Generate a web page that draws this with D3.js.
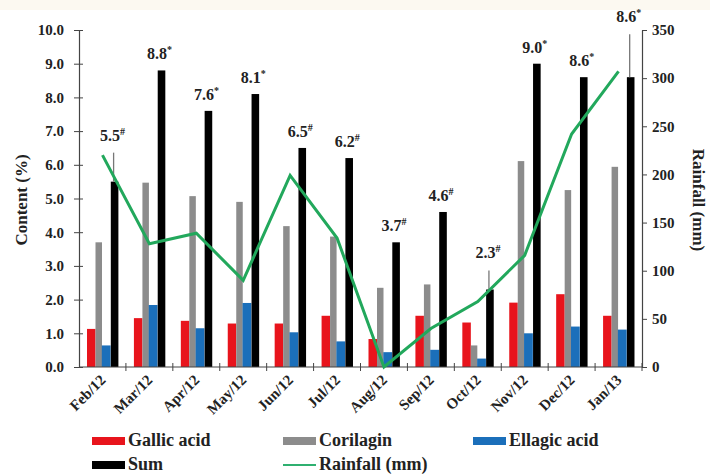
<!DOCTYPE html>
<html>
<head>
<meta charset="utf-8">
<script src="https://cdn.jsdelivr.net/npm/d3@7"></script>
<style>
  html, body { margin: 0; padding: 0; background: #fff; }
</style>
</head>
<body>
<svg id="chart" width="710" height="475"></svg>
<script>
// Monthly content of the three compounds (%), their sum, and rainfall (mm)
const months = ["Feb/12","Mar/12","Apr/12","May/12","Jun/12","Jul/12","Aug/12","Sep/12","Oct/12","Nov/12","Dec/12","Jan/13"];
const gallicAcid  = [1.13, 1.45, 1.37, 1.29, 1.29, 1.52, 0.83, 1.52, 1.32, 1.91, 2.16, 1.52];
const corilagin   = [3.70, 5.47, 5.07, 4.90, 4.18, 3.87, 2.35, 2.45, 0.64, 6.11, 5.25, 5.94];
const ellagicAcid = [0.64, 1.84, 1.15, 1.90, 1.03, 0.76, 0.44, 0.51, 0.25, 1.00, 1.20, 1.11];
const sumValues   = [5.5, 8.8, 7.6, 8.1, 6.5, 6.2, 3.7, 4.6, 2.3, 9.0, 8.6, 8.6];
const sumMarks    = ["#", "*", "*", "*", "#", "#", "#", "#", "#", "*", "*", "*"];
const rainfall    = [220, 128, 139, 90, 199, 134, 0, 40, 68, 116, 242, 307];
const leftTicks   = [0, 1, 2, 3, 4, 5, 6, 7, 8, 9, 10];
const rightTicks  = [0, 50, 100, 150, 200, 250, 300, 350];

const FONT = "Liberation Serif";
const INK = "#222";
const svg = d3.select("#chart");

// faint strip along the top edge
svg.append("rect").attr("x", 0).attr("y", 0).attr("width", 710).attr("height", 10).attr("fill", "#fcf9f1");

const plot = { left: 79, right: 642, top: 30, bottom: 367 };

const x = d3.scaleBand().domain(months).range([plot.left, plot.right]).paddingInner(0).paddingOuter(0);
const yL = d3.scaleLinear().domain([0, 10]).range([plot.bottom, plot.top]);
const yR = d3.scaleLinear().domain([0, 350]).range([plot.bottom, plot.top]);

// bar series: offset and width inside each month band
const series = [
  { name: "Gallic acid",  values: gallicAcid,  color: "#e8141c", off: 8.0,  w: 8.5 },
  { name: "Corilagin",    values: corilagin,   color: "#8c8c8c", off: 16.5, w: 6.5 },
  { name: "Ellagic acid", values: ellagicAcid, color: "#1b6fba", off: 22.8, w: 8.8 },
  { name: "Sum",          values: sumValues,   color: "#000000", off: 31.8, w: 7.6 }
];

series.forEach(s => {
  svg.append("g").selectAll("rect")
    .data(months)
    .join("rect")
    .attr("x", (m) => x(m) + s.off)
    .attr("width", s.w)
    .attr("y", (m, i) => yL(s.values[i]))
    .attr("height", (m, i) => plot.bottom - yL(s.values[i]))
    .attr("fill", s.color);
});

function styleText(sel, size) {
  return sel.attr("font-family", FONT).attr("font-weight", "bold").attr("font-size", size).attr("fill", INK);
}

// left axis
const gL = svg.append("g").attr("transform", `translate(${plot.left},0)`)
  .call(d3.axisLeft(yL).tickValues(leftTicks).tickFormat(d3.format(".1f")).tickSize(5).tickSizeOuter(0));
gL.attr("font-family", null).attr("font-size", null);
gL.select(".domain").attr("stroke", "#444").attr("stroke-width", 1.2);
gL.selectAll(".tick line").attr("x1", 4).attr("x2", -5).attr("stroke", "#444");
styleText(gL.selectAll(".tick text").attr("x", -15), 15);

// right axis
const gR = svg.append("g").attr("transform", `translate(${plot.right},0)`)
  .call(d3.axisRight(yR).tickValues(rightTicks).tickSize(5).tickSizeOuter(0));
gR.attr("font-family", null).attr("font-size", null);
gR.select(".domain").attr("stroke", "#444").attr("stroke-width", 1.2);
gR.selectAll(".tick line").attr("stroke", "#444");
styleText(gR.selectAll(".tick text").attr("x", 10), 15);

// bottom axis with ticks at month boundaries
const gB = svg.append("g").attr("transform", `translate(0,${plot.bottom})`);
gB.append("line").attr("x1", plot.left).attr("x2", plot.right).attr("stroke", "#444").attr("stroke-width", 1.2);
gB.selectAll("line.bt").data(months)
  .join("line").attr("class", "bt")
  .attr("x1", m => x(m) + x.bandwidth())
  .attr("x2", m => x(m) + x.bandwidth())
  .attr("y1", -4).attr("y2", 4).attr("stroke", "#444");
styleText(gB.selectAll("text").data(months).join("text"), 15)
  .attr("transform", m => `translate(${x(m) + x.bandwidth() / 2 + 4},14) rotate(-45)`)
  .attr("text-anchor", "end")
  .text(m => m);

// sum labels, some lifted with a thin leader line
const lift = { "Feb/12": 30, "Oct/12": 20, "Jan/13": 44 };
months.forEach((m, i) => {
  const cx = x(m) + 31.8 + 3.8;
  const top = yL(sumValues[i]);
  const extra = lift[m] || 0;
  if (extra) {
    svg.append("line").attr("x1", cx - 1).attr("x2", cx - 1)
      .attr("y1", top - extra + 1).attr("y2", top)
      .attr("stroke", "#777").attr("stroke-width", 1.3);
  }
  const t = styleText(svg.append("text"), 16)
    .attr("x", cx - 2).attr("y", top - 11 - extra)
    .attr("text-anchor", "middle");
  t.append("tspan").text(sumValues[i].toFixed(1));
  t.append("tspan").attr("font-size", 10).attr("dy", -6).text(sumMarks[i]);
});

// rainfall line on the right axis
const line = d3.line()
  .x((d, i) => x(months[i]) + x.bandwidth() / 2)
  .y(d => yR(d));
svg.append("path").datum(rainfall)
  .attr("d", line).attr("fill", "none")
  .attr("stroke", "#22a85c").attr("stroke-width", 3).attr("stroke-linejoin", "miter");

// axis titles
styleText(svg.append("text"), 17).attr("transform", "translate(27,200) rotate(-90)")
  .attr("text-anchor", "middle").text("Content (%)");
styleText(svg.append("text"), 17).attr("transform", "translate(693,200) rotate(90)")
  .attr("text-anchor", "middle").text("Rainfall (mm)");

// legend
const legendItems = [
  { name: "Gallic acid",   color: "#e8141c", type: "bar",  lx: 92,  ly: 441 },
  { name: "Corilagin",     color: "#8c8c8c", type: "bar",  lx: 283, ly: 441 },
  { name: "Ellagic acid",  color: "#1b6fba", type: "bar",  lx: 473, ly: 441 },
  { name: "Sum",           color: "#000000", type: "bar",  lx: 92,  ly: 465 },
  { name: "Rainfall (mm)", color: "#2fb070", type: "line", lx: 283, ly: 465 }
];
const lg = svg.append("g");
legendItems.forEach(it => {
  if (it.type === "bar") {
    lg.append("rect").attr("x", it.lx).attr("y", it.ly - 4).attr("width", 33).attr("height", 8).attr("fill", it.color);
  } else {
    lg.append("line").attr("x1", it.lx).attr("x2", it.lx + 33).attr("y1", it.ly).attr("y2", it.ly)
      .attr("stroke", it.color).attr("stroke-width", 2.2);
  }
  styleText(lg.append("text"), 18).attr("x", it.lx + 36).attr("y", it.ly + 5).text(it.name);
});
</script>
</body>
</html>
